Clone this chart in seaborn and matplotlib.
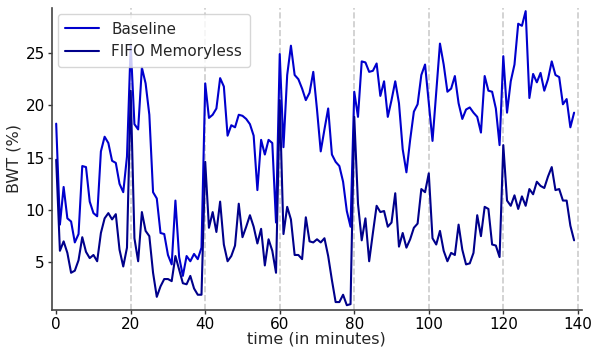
import numpy as np
import pandas as pd
import matplotlib
matplotlib.use("Agg")
import matplotlib.pyplot as plt
import seaborn as sns

minutes = list(range(140))

baseline = [
    18.25, 8.6, 12.2, 9.2, 8.9, 6.9, 7.7, 14.2, 14.1, 10.8,
    9.7, 9.4, 15.6, 17.0, 16.4, 14.7, 14.5, 12.5, 11.7, 15.1,
    25.8, 18.2, 17.7, 23.6, 22.1, 19.1, 11.7, 11.1, 7.8, 7.7,
    5.7, 4.8, 10.9, 5.5, 3.7, 5.6, 5.1, 5.8, 5.3, 6.4,
    22.1, 18.8, 19.1, 19.7, 22.6, 21.8, 17.1, 18.1, 17.9, 19.1,
    19.0, 18.7, 18.2, 17.1, 11.9, 16.7, 15.3, 16.7, 16.4, 8.8,
    24.9, 16.0, 22.9, 25.7, 22.9, 22.5, 21.6, 20.5, 21.2, 23.2,
    19.6, 15.6, 17.7, 19.7, 15.3, 14.6, 14.2, 12.7, 9.9, 8.4,
    21.3, 18.9, 24.2, 24.1, 23.2, 23.3, 24.0, 20.9, 22.3, 18.9,
    20.5, 22.3, 20.2, 15.8, 13.6, 16.7, 19.4, 20.1, 22.9, 23.9,
    20.2, 16.6, 21.2, 25.9, 23.9, 21.3, 21.6, 22.8, 20.2, 18.7,
    19.6, 19.8, 19.3, 18.9, 17.4, 22.8, 21.4, 21.3, 19.7, 16.2,
    24.7, 19.3, 22.3, 23.9, 27.8, 27.6, 29.0, 20.7, 23.0, 22.2,
    23.1, 21.4, 22.5, 24.2, 22.9, 22.7, 20.1, 20.6, 17.9, 19.3,
]

fifo = [
    14.8, 6.1, 7.0, 5.9, 4.0, 4.2, 5.2, 7.4, 6.0, 5.4,
    5.7, 5.1, 7.8, 9.2, 9.7, 9.1, 9.6, 6.2, 4.6, 6.4,
    21.4, 7.3, 5.1, 9.8, 8.0, 7.5, 4.0, 1.7, 2.7, 3.4,
    3.4, 3.2, 5.6, 4.3, 3.0, 2.9, 3.7, 2.5, 1.9, 1.9,
    14.6, 8.3, 9.8, 7.9, 10.8, 6.7, 5.1, 5.6, 6.6, 10.6,
    7.4, 8.4, 9.5, 8.4, 6.8, 8.2, 4.7, 7.2, 6.1, 4.0,
    20.5, 7.7, 10.3, 9.1, 5.7, 5.7, 5.3, 9.3, 7.0, 6.9,
    7.2, 6.9, 7.3, 5.6, 3.3, 1.2, 1.2, 1.9, 0.9, 1.0,
    18.9, 10.6, 7.1, 9.2, 5.1, 7.8, 10.4, 9.8, 9.9, 8.4,
    8.8, 11.6, 6.5, 7.8, 6.4, 7.2, 8.3, 8.7, 12.0, 11.7,
    13.5, 7.3, 6.7, 8.0, 6.1, 5.1, 5.9, 5.7, 8.6, 6.2,
    4.8, 4.9, 5.9, 9.5, 7.5, 10.3, 10.1, 6.7, 6.6, 5.5,
    16.2, 10.9, 10.4, 11.4, 10.1, 11.3, 10.4, 12.0, 11.5, 12.7,
    12.3, 12.1, 13.2, 14.1, 11.9, 12.0, 10.9, 10.9, 8.5, 7.1,
]

series_names = ["Baseline", "FIFO Memoryless"]
xticks = [0, 20, 40, 60, 80, 100, 120, 140]
yticks = [5, 10, 15, 20, 25]
boundaries = [20, 40, 60, 80, 100, 120, 140]

df = pd.DataFrame({
    "time": minutes * 2,
    "BWT": baseline + fifo,
    "method": [series_names[0]] * len(minutes) + [series_names[1]] * len(minutes),
})

sns.set_style("white")
plt.rcParams['font.family'] = ['DejaVu Sans']

fig, ax = plt.subplots(figsize=(5.91, 3.49), dpi=100)
fig.subplots_adjust(left=0.0875, right=0.984, top=0.977, bottom=0.112)

for b in boundaries:
    ax.axvline(b, color="#cccccc", linestyle="--", linewidth=1.2, zorder=0)

sns.lineplot(data=df, x="time", y="BWT", hue="method",
             palette=["#0000cd", "#00008b"], linewidth=1.5, ax=ax)

ax.set_xlim(-1.2, 141)
ax.set_ylim(0.45, 29.3)
ax.set_xticks(xticks)
ax.set_yticks(yticks)
ax.tick_params(axis="both", labelsize=11, length=3, width=1, pad=2,
               colors="#333333", labelcolor="black", bottom=True, left=True)
ax.set_xlabel("time (in minutes)", fontsize=11.5, labelpad=0)
ax.set_ylabel("BWT (%)", fontsize=11.5, labelpad=3)
sns.despine(ax=ax)
for s in ["left", "bottom"]:
    ax.spines[s].set_color("#444444")
    ax.spines[s].set_linewidth(1.2)

leg = ax.legend(loc="upper left", fontsize=11, title=None, frameon=True,
                borderaxespad=0.4, handlelength=2.2, borderpad=0.5)

fig.savefig("out.png", dpi=100)
